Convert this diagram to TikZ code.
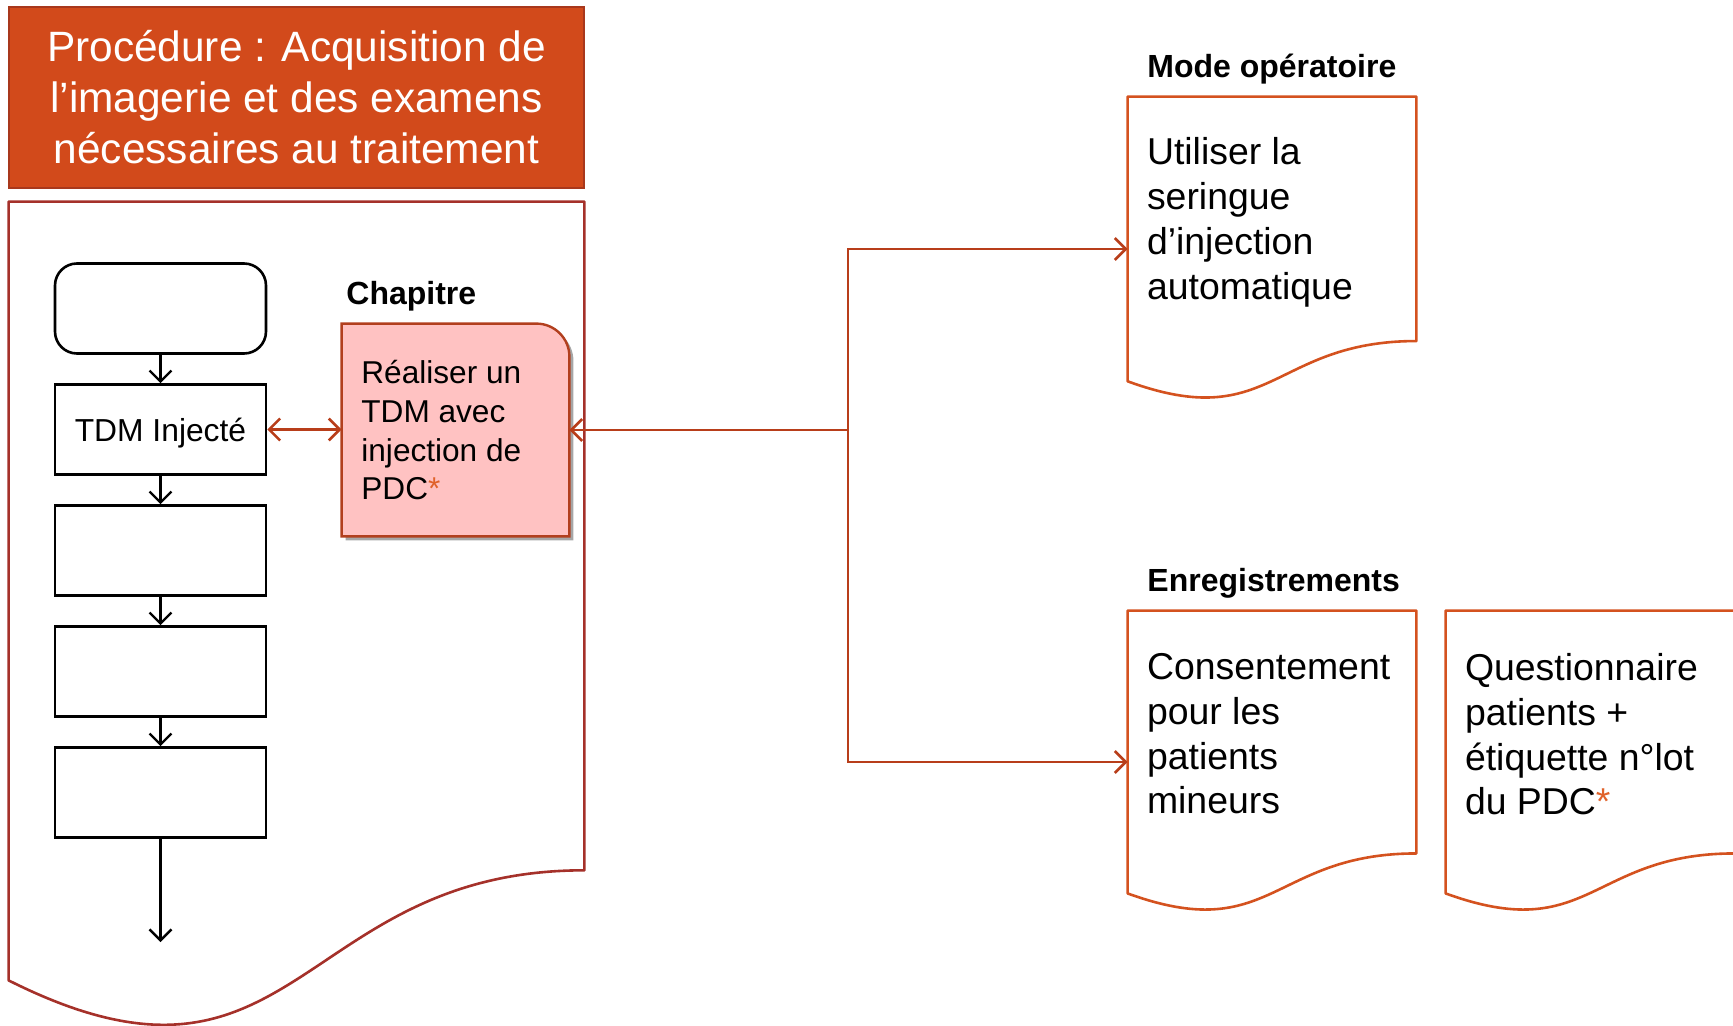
\documentclass[tikz,border=0pt]{standalone}
\usepackage{fontspec}
\setmainfont{Liberation Sans}
\usepackage{xcolor}
\usepackage{tikz}
\usetikzlibrary{arrows.meta, positioning, calc, shadows}

\definecolor{titleorange}{HTML}{D24A1B}
\definecolor{titleedge}{HTML}{A8381C}
\definecolor{procred}{HTML}{A5312A}
\definecolor{docorange}{HTML}{D4521F}
\definecolor{linkred}{HTML}{B83E1A}
\definecolor{chappink}{HTML}{FFC2C2}
\definecolor{chapedge}{HTML}{B23F1E}
\definecolor{starred}{HTML}{E0622A}

\begin{document}
\begin{tikzpicture}[
    x=0.5pt, y=-0.5pt,
    >={Straight Barb[length=5.5pt,width=11pt]},
    titlebox/.style={rectangle, fill=titleorange, draw=titleedge, line width=1pt,
                     text=white, align=center, minimum width=287.5pt, minimum height=90.5pt,
                     font=\fontsize{21.2}{25.5}\selectfont},
    flowbox/.style={rectangle, draw=black, line width=1.3pt, minimum width=105.5pt,
                    minimum height=45pt, inner sep=0pt, font=\fontsize{15.9}{19}\selectfont},
    flow/.style={->, line width=1.2pt, black},
    link/.style={line width=1.3pt, draw=linkred},
    docframe/.style={rectangle, inner sep=0pt, minimum width=144pt},
    doctext/.style={align=left, inner sep=0pt, font=\fontsize{18.7}{22.4}\selectfont},
    heading/.style={anchor=base west, inner sep=0pt, font=\bfseries\fontsize{16}{19}\selectfont}
]
\useasboundingbox (0,0) rectangle (1733,1026);

% procedure title and frame
\node[titlebox] (title) at (296.5,97.5) {Procédure : Acquisition de\\l’imagerie et des examens\\nécessaires au traitement};
\node[docframe, minimum width=287.5pt, minimum height=416.5pt] (proc) at (296.5,618.5) {};

% documents on the right
\node[docframe, minimum height=152pt] (mode) at (1272,249) {};
\node[docframe, minimum height=151pt] (consent) at (1272,762) {};
\node[docframe, minimum height=151pt] (quest) at (1590,762) {};

\foreach \d/\c in {proc/procred, mode/docorange, consent/docorange, quest/docorange} {
    \draw[line width=1.3pt, draw=\c, line join=round]
        (\d.north west) -- (\d.north east) -- ($(\d.north east)!0.802!(\d.south east)$)
        .. controls ($(\d.north)!0.802!(\d.south)$) and ($(\d.north)!1.1075!(\d.south)$)
        .. ($(\d.north west)!0.934!(\d.south west)$) -- cycle;
}

% flow chart
\node[flowbox, rounded corners=11pt] (first) at (160.5,308.5) {};
\node[flowbox, text depth=0pt, below=14.2pt of first] (tdm) {TDM Injecté};
\node[flowbox, below=14.2pt of tdm] (third) {};
\node[flowbox, below=14.2pt of third] (fourth) {};
\node[flowbox, below=14.2pt of fourth] (fifth) {};
\coordinate (flowend) at (160.5,942);
\foreach \a/\b in {first/tdm, tdm/third, third/fourth, fourth/fifth, fifth/flowend}
    \draw[flow] (\a) -- (\b);

% chapter
\node[heading] (chaphead) at (346,304.5) {Chapitre};
\node[rectangle, inner sep=0pt, minimum width=113.5pt, minimum height=106pt] (chap) at (455.5,430) {};
\draw[fill=chappink, draw=chapedge, line width=1.2pt,
      drop shadow={shadow xshift=2pt, shadow yshift=-2pt, opacity=0.35, fill=black}]
    (chap.south west) -- (chap.north west) -- ([xshift=-16.5pt]chap.north east)
    arc[start angle=90, end angle=0, radius=16.5pt] -- (chap.south east) -- cycle;
\node[align=left, inner sep=0pt, anchor=north west, font=\fontsize{15.8}{19.35}\selectfont]
    (chaptext) at (361,360) {Réaliser un\\TDM avec\\injection de\\PDC{\color{starred}*}};

% headings and document texts
\node[heading] (modehead) at (1147,77.5) {Mode opératoire};
\node[heading] (enrhead) at (1147,591.5) {Enregistrements};
\node[doctext, below right=20.3pt and 9.5pt of mode.north west] (modetext) {Utiliser la\\seringue\\d’injection\\automatique};
\node[doctext, below right=21.2pt and 9.5pt of consent.north west] (consenttext) {Consentement\\pour les\\patients\\mineurs};
\node[doctext, below right=21.2pt and 9.5pt of quest.north west] (questtext) {Questionnaire\\patients +\\étiquette n°lot\\du PDC{\color{starred}*}};

% connectors
\coordinate (hub) at (848,430);
\draw[link, <->] (tdm.east) -- (tdm.east -| chap.west);
\draw[link, ->] (hub) -- (chap.east);
\draw[link, ->] (hub) |- (mode.west);
\draw[link, ->] (hub) |- (consent.west);
\end{tikzpicture}
\end{document}
